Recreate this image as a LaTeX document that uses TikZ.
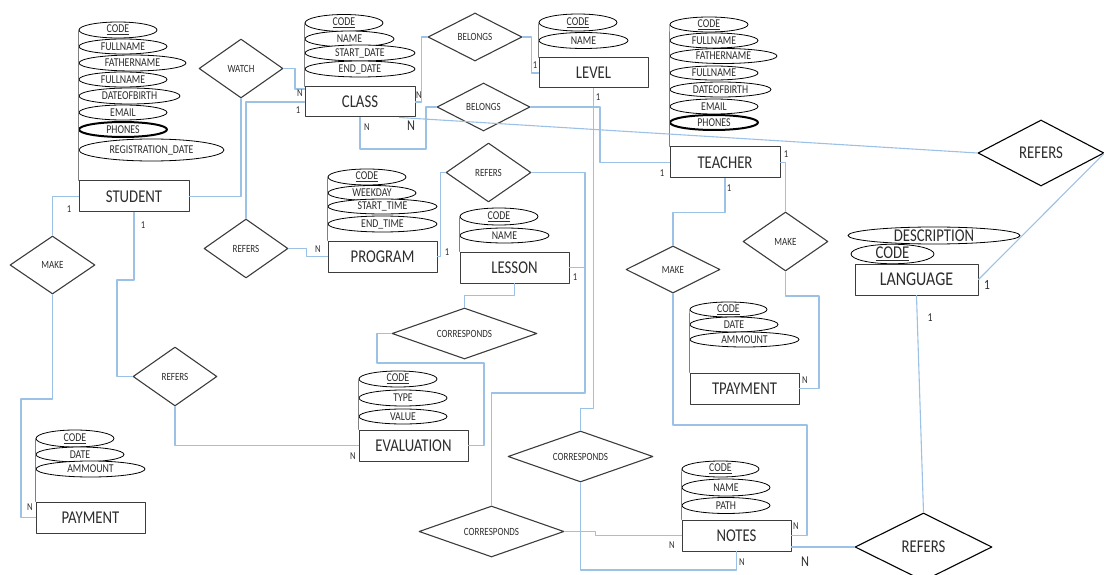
\documentclass[tikz,border=0pt]{standalone}
\usepackage{fontspec}
\setmainfont{Carlito}[FakeStretch=0.82]
\usepackage{tikz}
\definecolor{linkblue}{RGB}{155,194,230}
\definecolor{relgray}{RGB}{60,60,60}
\definecolor{labgray}{RGB}{45,45,45}
\usetikzlibrary{shapes.geometric,calc}
\tikzset{
    entity/.style={draw=relgray, line width=1pt, fill=white, inner sep=0pt,
        minimum width=109pt, minimum height=31pt, text=labgray,
        font=\fontsize{18}{18}\selectfont},
    attr/.style={ellipse, draw=black, line width=0.8pt, fill=white, inner sep=0pt,
        minimum width=88pt, minimum height=15pt, text=labgray,
        font=\fontsize{12}{12}\selectfont},
    multi/.style={attr, line width=2pt},
    rel/.style={diamond, draw=relgray, line width=1.1pt, inner sep=0pt,
        minimum width=84pt, minimum height=59pt, shape aspect=1.42, text=labgray,
        font=\fontsize{11}{11}\selectfont},
    link/.style={draw=linkblue, line width=1.1pt},
    stem/.style={draw=gray, line width=0.7pt},
    card/.style={inner sep=0pt, text=labgray, font=\fontsize{10.5}{10.5}\selectfont},
    bigcard/.style={card, font=\fontsize{15}{15}\selectfont}
}

\begin{document}
\begin{tikzpicture}[x=1pt, y=-1pt, line cap=round, line join=round]
\useasboundingbox (0,0) rectangle (1104,575);

\node[attr, minimum width=78pt, minimum height=16pt] (s1) at (118,30) {\underline{CODE}};
\node[attr] (s2) at (123,46.5) {FULLNAME};
\node[attr, minimum width=107pt, minimum height=16pt] (s3) at (132.5,63) {FATHERNAME};
\node[attr] (s4) at (123,79.5) {FULLNAME};
\node[attr, minimum width=101pt, minimum height=16pt] (s5) at (129.5,96) {DATEOFBIRTH};
\node[attr] (s6) at (123,112.5) {EMAIL};
\node[multi] (s7) at (123,129.5) {PHONES};
\node[attr, minimum width=145pt, minimum height=22pt] (s8) at (151.5,150) {REGISTRATION\_DATE};
\node[entity, minimum width=110pt] (student) at (134,196.5) {STUDENT};
\draw[stem] (s1.west) -- (student.north west);

\node[attr, minimum width=78pt, minimum height=17pt] (c1) at (344,23) {\underline{CODE}};
\node[attr, minimum width=89pt, minimum height=16pt] (c2) at (349.5,39) {NAME};
\node[attr, minimum width=110pt, minimum height=16pt] (c3) at (360,53) {START\_DATE};
\node[attr, minimum width=110pt, minimum height=16pt] (c4) at (360,69) {END\_DATE};
\node[entity, minimum width=110pt, minimum height=30pt] (class) at (360,102) {CLASS};
\draw[stem] (c1.west) -- (class.north west);

\node[attr, minimum width=78pt, minimum height=17pt] (l1) at (578,22.5) {\underline{CODE}};
\node[attr, minimum width=89pt, minimum height=16pt] (l2) at (583.5,40.5) {NAME};
\node[entity, minimum height=30pt] (level) at (593.5,73) {LEVEL};
\draw[stem] (l1.west) -- (level.north west);

\node[attr, minimum width=78pt] (t1) at (709,24.5) {\underline{CODE}};
\node[attr] (t2) at (714,40.5) {FULLNAME};
\node[attr, minimum width=107pt] (t3) at (723.5,56) {FATHERNAME};
\node[attr, minimum height=14pt] (t4) at (714,73) {FULLNAME};
\node[attr, minimum width=101pt] (t5) at (720.5,89.5) {DATEOFBIRTH};
\node[attr] (t6) at (714,106.5) {EMAIL};
\node[multi] (t7) at (714,122.5) {PHONES};
\node[entity, minimum width=110pt] (teacher) at (725,162.5) {TEACHER};
\draw[stem] (t1.west) -- (teacher.north west);

\node[attr, minimum width=78pt, minimum height=16pt] (p1) at (367,177) {\underline{CODE}};
\node[attr] (p2) at (372,193) {WEEKDAY};
\node[attr, minimum width=109pt] (p3) at (382.5,206.5) {START\_TIME};
\node[attr, minimum width=109pt, minimum height=16pt] (p4) at (382.5,224) {END\_TIME};
\node[entity] (program) at (382.5,256.5) {PROGRAM};
\draw[stem] (p1.west) -- (program.north west);

\node[attr, minimum width=78pt, minimum height=17pt] (e1) at (499,216.5) {\underline{CODE}};
\node[attr, minimum width=89pt] (e2) at (504.5,235.5) {NAME};
\node[entity] (lesson) at (514.5,267.5) {LESSON};
\draw[stem] (e1.west) -- (lesson.north west);

\node[attr, minimum width=78pt, minimum height=16pt] (v1) at (398,379) {\underline{CODE}};
\node[attr, minimum height=16pt] (v2) at (403,398) {TYPE};
\node[attr] (v3) at (403,416.5) {VALUE};
\node[entity] (evaluation) at (413.5,445.5) {EVALUATION};
\draw[stem] (v1.west) -- (evaluation.north west);

\node[attr, minimum width=78pt, minimum height=17pt] (y1) at (75,438.5) {\underline{CODE}};
\node[attr] (y2) at (80,454.5) {DATE};
\node[attr, minimum width=109pt, minimum height=16pt] (y3) at (90.5,469) {AMMOUNT};
\node[entity] (payment) at (90.5,517.5) {PAYMENT};
\draw[stem] (y1.west) -- (payment.north west);

\node[attr, minimum width=77pt] (m1) at (728.5,309.5) {\underline{CODE}};
\node[attr] (m2) at (734,324.5) {DATE};
\node[attr, minimum width=109pt] (m3) at (744.5,339.5) {AMMOUNT};
\node[entity] (tpayment) at (744.5,388.5) {TPAYMENT};
\draw[stem] (m1.west) -- (tpayment.north west);

\node[attr, minimum width=77pt, minimum height=16pt] (n1) at (720.5,469) {\underline{CODE}};
\node[attr, minimum height=17pt] (n2) at (726,487.5) {NAME};
\node[attr, minimum height=16pt] (n3) at (726,505.5) {PATH};
\node[entity] (notes) at (736.5,535.5) {NOTES};
\draw[stem] (n1.west) -- (notes.north west);

\node[attr, minimum width=172pt, minimum height=17pt, font=\fontsize{18}{18}\selectfont] (g1) at (934,235.5) {DESCRIPTION};
\node[attr, minimum width=83pt, minimum height=18pt, font=\fontsize{18}{18}\selectfont] (g2) at (892.5,254) {\underline{CODE}};
\node[entity, minimum width=123pt, font=\fontsize{19.5}{19.5}\selectfont] (language) at (916.5,279.5) {LANGUAGE};

\node[rel] (watch) at (241,68.5) {WATCH};
\node[rel] (rprog) at (246,248.5) {REFERS};
\node[rel] (reval) at (175,376.5) {REFERS};
\node[rel, minimum width=85pt, minimum height=58pt] (make1) at (52.5,265) {MAKE};
\node[rel, minimum width=94pt, minimum height=48pt, shape aspect=1.96] (bel1) at (475,37) {BELONGS};
\node[rel, minimum width=93pt, minimum height=48pt, shape aspect=1.94] (bel2) at (483.5,107) {BELONGS};
\node[rel, minimum width=85pt] (rles) at (488.5,172.5) {REFERS};
\node[rel, minimum width=145pt, minimum height=51pt, shape aspect=2.84] (ctop) at (464.5,333.5) {CORRESPONDS};
\node[rel, minimum width=145pt, minimum height=51pt, shape aspect=2.84] (cmid) at (580.5,456.5) {CORRESPONDS};
\node[rel, minimum width=145pt, minimum height=51pt, shape aspect=2.84] (cbot) at (491.5,531.5) {CORRESPONDS};
\node[rel, minimum width=85pt] (make2) at (785.5,241.5) {MAKE};
\node[rel, minimum width=94pt, minimum height=47pt, shape aspect=2] (make3) at (673,269.5) {MAKE};
\node[rel, minimum width=126pt, minimum height=66pt, shape aspect=1.9, draw=black, font=\fontsize{18}{18}\selectfont] (rbig) at (1041,153) {REFERS};
\node[rel, minimum width=137pt, minimum height=68pt, shape aspect=2, draw=black, font=\fontsize{18}{18}\selectfont] (rnotes) at (923.5,547) {REFERS};

\coordinate (wc) at (295,89);
\draw[link] (watch.south) |- (student.east);
\draw[link] (watch.east) -| (wc) -- (wc -| class.west);
\draw[link] (rprog.north) |- (class.west);
\draw[link] (rprog.east) -- ++(18,0) |- (program.west);
\draw[link] (bel1.west) -- ++(-6,0) |- (class.east);
\draw[link] (bel1.east) -- ++(9,0) |- (level.west);
\coordinate (b2) at (426,149);
\draw[link] (bel2.west) -| (b2) -| (class.south);
\coordinate (b3) at (600,140);
\draw[link] (bel2.east) -| (b3) |- (teacher.west);
\draw[link] ($(class.south east)+(-16,0)$) -- (rbig.west);
\draw[link] (rbig.east) -- (language.east);
\coordinate (lv) at ($(level.south)+(0,320)$);
\draw[link] (level.south) -- (lv) -| (cmid.north);
\draw[link] (rles.west) -- ++(-5,0) |- (program.east);
\coordinate (lr) at (585,267.5);
\coordinate (lc) at (585,393);
\draw[link] (rles.east) -| (lr) -- (lesson.east);
\draw[link] (lr) -- (lc) -| (cbot.north);
\draw[link] (lesson.south) -- ++(0,12) -| (ctop.north);
\coordinate (ev1) at (377,363);
\coordinate (ev2) at (484,363);
\draw[link] (ctop.west) -| (ev1) -- (ev2) |- (evaluation.east);
\coordinate (st) at (117,280);
\draw[link] (student.south) |- (st) |- (reval.west);
\draw[link] (reval.south) |- (evaluation.west);
\draw[link] (make1.north) |- (student.west);
\coordinate (mk1) at (21,399);
\draw[link] (make1.south) |- (mk1) |- (payment.west);
\draw[link] (teacher.east) -| (make2.north);
\coordinate (mk2) at (819,296);
\draw[link] (make2.south) |- (mk2) |- (tpayment.east);
\draw[link] (teacher.south) -- ++(0,34) -| (make3.north);
\coordinate (mk3) at (807,425);
\draw[link] (make3.south) |- (mk3) |- (notes.east);
\coordinate (cm) at (580.5,570);
\draw[link] (cmid.south) -- (cm) -| (notes.south);
\draw[link] (cbot.east) -- ++(31,0) |- (notes.west);
\draw[link] (notes.east |- rnotes.west) -- (rnotes.west);
\draw[link] (language.south) -- (rnotes.north);

\node[card] (k1) at (300,93) {N};
\node[card] (k2) at (298,110) {1};
\node[card] (k3) at (419,95) {N};
\node[card] (k4) at (367,127) {N};
\node[bigcard] (k5) at (411,126) {N};
\node[card] (k6) at (535,65) {1};
\node[card] (k7) at (598,97) {1};
\node[card] (k8) at (786,154) {1};
\node[card] (k9) at (662,173) {1};
\node[card] (k10) at (729,188) {1};
\node[card] (k11) at (69,209) {1};
\node[card] (k12) at (143,225) {1};
\node[card] (k13) at (318,249) {N};
\node[card] (k14) at (447,252) {1};
\node[card] (k15) at (575,277) {1};
\node[card] (k16) at (353,456) {N};
\node[card] (k17) at (30,507) {N};
\node[card] (k18) at (805,380) {N};
\node[card] (k19) at (796,526) {N};
\node[card] (k20) at (672,545) {N};
\node[card] (k21) at (742,562) {N};
\node[bigcard] (k22) at (805,562) {N};
\node[card, font=\fontsize{14}{14}\selectfont] (k23) at (987,285) {1};
\node[card, font=\fontsize{12}{12}\selectfont] (k24) at (930,318) {1};
\end{tikzpicture}
\end{document}
